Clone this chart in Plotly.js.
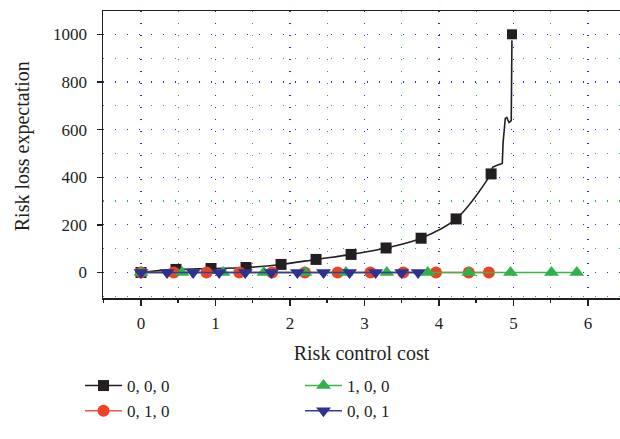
<!DOCTYPE html>
<html>
<head>
<meta charset="utf-8">
<script src="https://cdn.plot.ly/plotly-3.0.1.min.js"></script>
<style>html,body{margin:0;padding:0;background:#fff;}#chart{width:620px;height:439px;}</style>
</head>
<body>
<div id="chart"></div>
<script>
// Series "0, 0, 0" (markers) and the unmarked tail of its curve
const blackX = [0, 0.47, 0.94, 1.41, 1.88, 2.35, 2.82, 3.29, 3.76, 4.23, 4.70, 4.98];
const blackY = [0, 13, 17, 21, 34, 55, 76, 103, 144, 225, 414, 1000];
const tailX = [4.72, 4.78, 4.85, 4.86, 4.89, 4.91, 4.94, 4.97];
const tailY = [442, 450, 458, 542, 647, 651, 630, 638];
// Series "0, 1, 0"
const redX = [0, 0.44, 0.88, 1.32, 1.76, 2.20, 2.64, 3.08, 3.52, 3.96, 4.40, 4.67];
const redY = [0, 0, 0, 0, 0, 0, 0, 0, 0, 0, 0, 0];
// Series "1, 0, 0"
const greenX = [0, 0.55, 1.10, 1.65, 2.20, 2.75, 3.30, 3.85, 4.40, 4.96, 5.51, 5.85];
const greenY = [0, 0, 0, 0, 0, 0, 0, 0, 0, 0, 0, 0];
// Series "0, 0, 1"
const blueX = [0, 0.35, 0.70, 1.05, 1.40, 1.75, 2.10, 2.45, 2.80, 3.15, 3.50, 3.72];
const blueY = [0, 0, 0, 0, 0, 0, 0, 0, 0, 0, 0, 0];
const xTicks = [0, 1, 2, 3, 4, 5, 6];
const yTicks = [0, 200, 400, 600, 800, 1000];

const FONT = 'Liberation Serif, Times New Roman, serif';
const INK = '#231f20';
const nMain = blackX.length - 1;

const lastX = [blackX[nMain - 1]].concat(tailX, [blackX[nMain]]);
const lastY = [blackY[nMain - 1]].concat(tailY, [blackY[nMain]]);
const lastSize = lastX.map((v, i) => i === lastX.length - 1 ? 11 : 0);

const traces = [
  {x: blackX.slice(0, nMain), y: blackY.slice(0, nMain), name: '0, 0, 0', mode: 'lines+markers',
   line: {color: INK, width: 1.6, shape: 'spline'}, marker: {symbol: 'square', size: 11, color: INK},
   legend: 'legend'},
  {x: lastX, y: lastY, mode: 'lines+markers', showlegend: false,
   line: {color: INK, width: 1.6}, marker: {symbol: 'square', size: lastSize, color: INK, opacity: 1}},
  {x: redX, y: redY, name: '0, 1, 0', mode: 'lines+markers',
   line: {color: '#f05a3c', width: 1.5}, marker: {symbol: 'circle', size: 12, color: '#ef4123'},
   legend: 'legend'},
  {x: greenX, y: greenY, name: '1, 0, 0', mode: 'lines+markers',
   line: {color: '#3cb54a', width: 1.5}, marker: {symbol: 'triangle-up', size: 13, color: '#2fb24a'},
   legend: 'legend2'},
  {x: blueX, y: blueY, name: '0, 0, 1', mode: 'lines+markers',
   line: {color: '#3a3d96', width: 1.5}, marker: {symbol: 'triangle-down', size: 13, color: '#2e3192'},
   legend: 'legend2'}
];

const legendCommon = {
  xref: 'container', yref: 'container', xanchor: 'left', yanchor: 'top',
  orientation: 'v', bgcolor: 'rgba(0,0,0,0)', font: {family: FONT, size: 17, color: INK},
  tracegroupgap: 0, itemwidth: 37
};

const GRID_MAJOR = '#2b2bd9';
const GRID_MINOR = '#1fb83a';

const layout = {
  width: 620, height: 439,
  margin: {l: 103, r: 0, t: 11, b: 141, autoexpand: false},
  paper_bgcolor: '#fff', plot_bgcolor: '#fff',
  font: {family: FONT, color: INK},
  showlegend: true,
  legend: Object.assign({}, legendCommon, {x: 80 / 620, y: 1 - 368 / 439}),
  legend2: Object.assign({}, legendCommon, {x: 300 / 620, y: 1 - 368 / 439}),
  xaxis: {
    range: [-0.51, 6.43], tickvals: xTicks, ticktext: xTicks.map(String),
    showline: true, linecolor: INK, linewidth: 1.5, mirror: true,
    ticks: 'outside', ticklen: 6, tickwidth: 1.5, tickcolor: INK,
    tickfont: {family: FONT, size: 17, color: INK}, ticklabelstandoff: 3,
    showgrid: true, gridcolor: GRID_MAJOR, gridwidth: 1.2, griddash: '1px,11px',
    zeroline: false, automargin: false,
    minor: {dtick: 0.5, ticks: 'outside', ticklen: 3, tickwidth: 1.5, tickcolor: INK,
            showgrid: true, gridcolor: GRID_MINOR, gridwidth: 1.2, griddash: '1px,11px'},
    title: {text: 'Risk control cost', font: {family: FONT, size: 20, color: INK}, standoff: 14}
  },
  yaxis: {
    range: [-107, 1098], tickvals: yTicks, ticktext: yTicks.map(String),
    showline: true, linecolor: INK, linewidth: 1.5, mirror: false,
    ticks: 'outside', ticklen: 5, tickwidth: 1.5, tickcolor: INK,
    tickfont: {family: FONT, size: 17, color: INK}, ticklabelstandoff: 6,
    showgrid: true, gridcolor: GRID_MAJOR, gridwidth: 1.2, griddash: '1px,11px',
    zeroline: false, automargin: false,
    minor: {dtick: 100, ticks: '', showgrid: true, gridcolor: GRID_MINOR, gridwidth: 1.2, griddash: '1px,11px'}
  },
  annotations: [{
    text: 'Risk loss expectation', textangle: -90, showarrow: false,
    xref: 'paper', yref: 'paper', x: (22 - 103) / 517, y: (297.5 - 146) / 286.5,
    xanchor: 'center', yanchor: 'middle',
    font: {family: FONT, size: 20, color: INK}
  }]
};

Plotly.newPlot('chart', traces, layout, {displayModeBar: false, staticPlot: true});
</script>
</body>
</html>
